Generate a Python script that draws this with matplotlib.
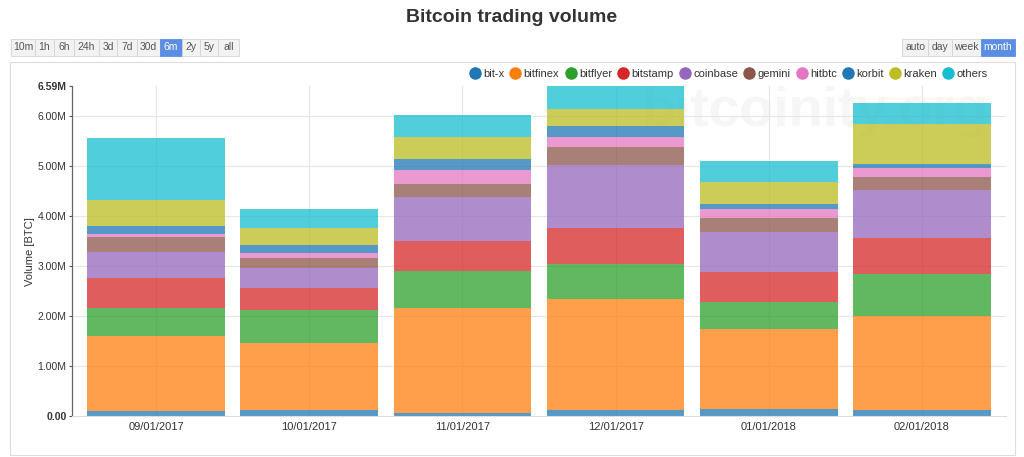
import matplotlib.pyplot as plt
from matplotlib.patches import Rectangle
from matplotlib.lines import Line2D
import numpy as np

plt.rcParams['font.family'] = ['Liberation Sans', 'DejaVu Sans']

# Monthly trading volume per exchange, in millions of BTC
months = ['09/01/2017', '10/01/2017', '11/01/2017', '12/01/2017', '01/01/2018', '02/01/2018']
exchanges = ['bit-x', 'bitfinex', 'bitflyer', 'bitstamp', 'coinbase',
             'gemini', 'hitbtc', 'korbit', 'kraken', 'others']
colors = ['#1f77b4', '#ff7f0e', '#2ca02c', '#d62728', '#9467bd',
          '#8c564b', '#e377c2', '#1f77b4', '#bcbd22', '#17becf']

bit_x = [0.11, 0.13, 0.07, 0.13, 0.15, 0.13]
bitfinex = [1.49, 1.34, 2.10, 2.21, 1.60, 1.88]
bitflyer = [0.56, 0.65, 0.73, 0.69, 0.53, 0.82]
bitstamp = [0.60, 0.43, 0.59, 0.72, 0.59, 0.72]
coinbase = [0.51, 0.41, 0.89, 1.27, 0.80, 0.97]
gemini = [0.30, 0.19, 0.26, 0.36, 0.28, 0.26]
hitbtc = [0.07, 0.11, 0.27, 0.20, 0.18, 0.18]
korbit = [0.16, 0.16, 0.23, 0.21, 0.10, 0.08]
kraken = [0.52, 0.34, 0.43, 0.35, 0.45, 0.79]
others = [1.23, 0.38, 0.44, 0.45, 0.42, 0.42]
series = [bit_x, bitfinex, bitflyer, bitstamp, coinbase, gemini, hitbtc, korbit, kraken, others]

range_buttons = ['10m', '1h', '6h', '24h', '3d', '7d', '30d', '6m', '2y', '5y', 'all']
group_buttons = ['auto', 'day', 'week', 'month']

W, H = 1024, 457


def fx(px):
    return px / W


def fy(py):
    return 1 - py / H


fig = plt.figure(figsize=(W / 100, H / 100), dpi=100)
ax = fig.add_axes([fx(72), fy(416.3), fx(1006) - fx(72), fy(86) - fy(416.3)])

# panel border
fig.add_artist(Rectangle((fx(10), fy(455)), fx(1015) - fx(10), fy(62) - fy(455),
                         transform=fig.transFigure, facecolor='none',
                         edgecolor='#dddddd', lw=0.8, zorder=0))

fig.text(0.5, fy(18), 'Bitcoin trading volume', ha='center', va='center',
         fontsize=14, fontweight='bold', color='#333333')


# buttons
def draw_buttons(labels, edges, active):
    for i, lab in enumerate(labels):
        x0, x1 = edges[i], edges[i + 1]
        on = lab == active
        fig.add_artist(Rectangle((fx(x0), fy(56)), fx(x1) - fx(x0), fy(39) - fy(56),
                                 transform=fig.transFigure,
                                 facecolor='#5b8ee2' if on else '#f2f2f2',
                                 edgecolor='#5b8ee2' if on else '#d4d4d4', lw=0.6))
        fig.text(fx((x0 + x1) / 2), fy(47.5), lab, ha='center', va='center',
                 fontsize=7.5, color='white' if on else '#555555')


draw_buttons(range_buttons, [11, 35, 54, 74, 99, 117, 137, 160, 182, 200, 218, 239], '6m')
draw_buttons(group_buttons, [902, 928, 952, 981, 1015], 'month')

# watermark
ax.text(0.795, 0.92, 'bitcoinity.org', transform=ax.transAxes, ha='center', va='center',
        fontsize=40, fontweight='bold', color='#f6f6f6', zorder=0.5)

x = np.arange(len(months))
bottom = np.zeros(len(months))
for name, vals, c in zip(exchanges, series, colors):
    ax.bar(x, vals, bottom=bottom, width=0.9, color=c, alpha=0.75, lw=0, zorder=2)
    bottom += np.array(vals)

ymax = bottom.max()
ax.set_xlim(-0.55, len(months) - 0.45)
ax.set_ylim(0, ymax)

yt = list(range(0, 7)) + [ymax]
ax.set_yticks(yt)
ax.set_yticklabels(['0.00'] + [f'{v:.2f}M' for v in yt[1:]])
for lab in ax.get_yticklabels():
    lab.set_fontsize(7.5)
    lab.set_color('#333333')
ax.get_yticklabels()[0].set_fontweight('bold')
ax.get_yticklabels()[-1].set_fontweight('bold')
ax.set_xticks(x)
ax.set_xticklabels(months, fontsize=8, color='#333333')

ax.grid(True, color='#e6e6e6', lw=0.8, zorder=1)
ax.set_axisbelow(True)
ax.yaxis.get_gridlines()[-1].set_visible(False)
ax.yaxis.get_gridlines()[0].set_visible(False)
ax.tick_params(axis='x', length=0, pad=4)
ax.tick_params(axis='y', length=2, width=0.8, color='#555555', pad=2)

for s in ['top', 'right']:
    ax.spines[s].set_visible(False)
ax.spines['left'].set_color('#666666')
ax.spines['left'].set_linewidth(0.9)
ax.spines['bottom'].set_color('#dddddd')

ax.set_ylabel('Volume [BTC]', fontsize=8, color='#333333', labelpad=2)

handles = [Line2D([], [], marker='o', ls='none', markersize=8, color=c) for c in colors]
ax.legend(handles, exchanges, ncol=len(exchanges), loc='center right',
          bbox_to_anchor=(fx(993), fy(74)), bbox_transform=fig.transFigure,
          frameon=False, fontsize=8, handlelength=0.8, handletextpad=0.35,
          columnspacing=0.6, borderpad=0, labelcolor='#333333')

fig.savefig('out.png', dpi=100)
